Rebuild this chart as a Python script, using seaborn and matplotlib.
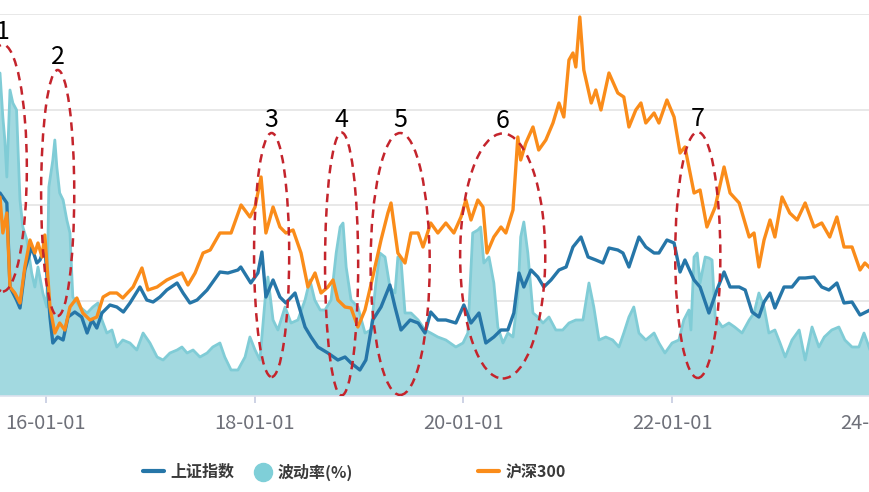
import matplotlib
matplotlib.use("Agg")
import matplotlib.pyplot as plt
import matplotlib.dates as mdates
from matplotlib.patches import Ellipse
from matplotlib.lines import Line2D
import seaborn as sns
import pandas as pd

# ---------------- data (arbitrary units) ----------------
sh_dates = ["2015-07-24","2015-08-17","2015-08-28","2015-09-20","2015-10-02","2015-10-19","2015-11-12","2015-11-30","2015-12-11","2015-12-28",
            "2016-01-15","2016-01-25","2016-02-11","2016-03-01","2016-03-18","2016-04-11","2016-05-05","2016-05-24","2016-06-10","2016-06-27",
            "2016-07-15","2016-08-12","2016-09-05","2016-09-28","2016-10-21","2016-11-25","2016-12-19","2017-01-10","2017-02-03","2017-02-27",
            "2017-04-04","2017-04-25","2017-05-19","2017-06-13","2017-07-18","2017-09-01","2017-09-29","2017-11-03","2017-11-13","2017-12-18",
            "2018-01-12","2018-01-26","2018-02-09","2018-03-06","2018-03-30","2018-04-20","2018-05-22","2018-06-26","2018-07-17","2018-08-10",
            "2018-09-14","2018-10-19","2018-11-13","2018-12-04","2019-01-04","2019-01-25","2019-02-18","2019-03-19","2019-04-19","2019-05-07",
            "2019-05-28","2019-06-29","2019-07-27","2019-08-20","2019-09-09","2019-10-04","2019-11-01","2019-12-06","2020-01-03","2020-01-28",
            "2020-02-25","2020-03-20","2020-04-17","2020-05-12","2020-06-05","2020-06-26","2020-07-14","2020-07-31","2020-08-25","2020-09-18",
            "2020-10-09","2020-11-03","2020-12-01","2020-12-26","2021-01-19","2021-02-16","2021-03-13","2021-04-09","2021-05-04","2021-05-25",
            "2021-06-25","2021-07-13","2021-08-03","2021-09-07","2021-10-01","2021-10-30","2021-11-16","2021-12-14","2022-01-08","2022-01-29",
            "2022-02-15","2022-03-19","2022-04-09","2022-05-10","2022-06-07","2022-07-02","2022-07-23","2022-08-24","2022-09-14","2022-10-08",
            "2022-11-01","2022-11-19","2022-12-10","2022-12-27","2023-01-28","2023-02-25","2023-03-22","2023-04-12","2023-05-13","2023-06-09",
            "2023-07-04","2023-08-01","2023-08-26","2023-09-23","2023-10-21","2023-11-25"]
sh_values = [203,193,109,96,88,126,149,133,136,149,
             79,53,59,56,79,84,79,63,76,68,
             83,91,89,84,93,109,96,94,99,106,
             113,103,93,96,106,124,123,126,129,113,
             123,144,99,116,99,93,103,69,59,49,
             43,36,39,33,26,36,76,89,111,89,
             66,76,73,63,84,76,76,73,91,73,
             83,53,59,66,66,83,123,109,126,119,
             109,116,126,129,149,159,139,136,133,148,
             146,143,129,159,149,143,143,156,153,124,
             136,116,109,83,106,124,109,109,106,84,
             79,94,103,88,109,109,118,118,119,109,
             106,113,93,94,81,86]

hs_dates = ["2015-07-24","2015-08-03","2015-08-17","2015-08-28","2015-09-14","2015-10-02","2015-10-19","2015-11-06","2015-11-23","2015-12-04",
            "2015-12-18","2015-12-28","2016-01-15","2016-02-01","2016-02-18","2016-03-07","2016-03-25","2016-04-18","2016-05-09","2016-06-03",
            "2016-06-27","2016-07-19","2016-08-12","2016-09-05","2016-09-26","2016-11-01","2016-12-02","2016-12-23","2017-01-24","2017-02-27",
            "2017-03-21","2017-04-21","2017-05-12","2017-06-06","2017-07-04","2017-07-29","2017-09-01","2017-10-10","2017-11-14","2017-12-15",
            "2018-01-02","2018-01-23","2018-02-09","2018-03-06","2018-03-30","2018-04-20","2018-05-15","2018-06-12","2018-07-06","2018-07-31",
            "2018-08-21","2018-09-14","2018-10-02","2018-10-19","2018-11-13","2018-12-04","2018-12-28","2019-01-22","2019-02-18","2019-03-19",
            "2019-04-12","2019-04-23","2019-05-17","2019-06-11","2019-07-02","2019-07-27","2019-08-13","2019-09-09","2019-10-04","2019-11-01",
            "2019-11-29","2019-12-24","2020-01-10","2020-01-28","2020-02-21","2020-03-10","2020-03-24","2020-04-17","2020-05-12","2020-05-29",
            "2020-06-23","2020-07-10","2020-07-20","2020-08-07","2020-09-01","2020-09-21","2020-10-16","2020-11-10","2020-12-01","2020-12-18",
            "2021-01-05","2021-01-19","2021-01-29","2021-02-12","2021-02-26","2021-03-24","2021-04-09","2021-04-27","2021-05-25","2021-06-25",
            "2021-07-16","2021-08-03","2021-08-27","2021-09-14","2021-10-01","2021-10-30","2021-11-16","2021-12-14","2022-01-08","2022-01-29",
            "2022-02-15","2022-03-19","2022-04-09","2022-05-03","2022-06-01","2022-07-02","2022-07-23","2022-08-24","2022-09-28","2022-10-15",
            "2022-11-01","2022-11-19","2022-12-10","2022-12-27","2023-01-21","2023-02-17","2023-03-15","2023-04-12","2023-05-13","2023-06-09",
            "2023-07-07","2023-08-01","2023-08-26","2023-09-23","2023-10-21","2023-11-07","2023-11-25"]
hs_values = [199,163,183,109,103,93,129,156,143,153,
             139,161,89,63,73,66,89,98,83,76,
             79,99,103,103,98,109,128,106,109,116,
             119,123,111,123,143,146,163,163,191,179,
             189,219,163,189,169,163,166,143,109,123,
             103,109,116,96,89,88,69,86,119,156,
             183,193,143,133,163,163,149,173,163,173,
             163,179,196,176,196,189,143,159,169,163,
             186,259,236,253,269,246,256,273,293,279,
             336,343,329,379,326,293,306,286,323,303,
             299,269,286,293,273,283,273,296,279,243,
             249,203,206,169,189,229,203,193,159,163,
             129,156,176,159,199,183,176,193,169,173,
             159,179,149,149,126,133,128]

vol_dates = ["2015-07-24","2015-08-03","2015-08-10","2015-08-17","2015-08-28","2015-09-07","2015-09-20","2015-10-02","2015-10-12","2015-10-26",
             "2015-11-12","2015-11-23","2015-12-04","2015-12-21","2016-01-04","2016-01-11","2016-01-25","2016-02-01","2016-02-08","2016-02-18",
             "2016-03-01","2016-03-14","2016-03-25","2016-04-04","2016-04-29","2016-05-24","2016-06-13","2016-07-01","2016-07-15","2016-08-01",
             "2016-08-19","2016-09-05","2016-09-26","2016-10-21","2016-11-14","2016-12-06","2016-12-30","2017-01-24","2017-02-14","2017-03-10",
             "2017-04-04","2017-04-21","2017-05-09","2017-05-30","2017-06-23","2017-07-18","2017-08-07","2017-09-01","2017-09-18","2017-10-10",
             "2017-11-03","2017-11-28","2017-12-15","2018-01-02","2018-01-19","2018-02-06","2018-02-16","2018-03-06","2018-03-23","2018-04-17",
             "2018-05-08","2018-06-01","2018-06-26","2018-07-13","2018-07-30","2018-08-18","2018-09-04","2018-09-25","2018-10-13","2018-10-27",
             "2018-11-06","2018-11-17","2018-12-04","2018-12-28","2019-01-22","2019-02-12","2019-03-01","2019-03-15","2019-04-02","2019-04-19",
             "2019-05-07","2019-05-17","2019-05-28","2019-06-11","2019-07-02","2019-07-27","2019-08-20","2019-09-09","2019-10-04","2019-11-01",
             "2019-12-06","2019-12-31","2020-01-17","2020-02-03","2020-02-21","2020-03-02","2020-03-13","2020-03-31","2020-04-17","2020-05-01",
             "2020-05-19","2020-06-05","2020-06-23","2020-07-10","2020-07-20","2020-07-31","2020-08-14","2020-09-01","2020-09-18","2020-10-06",
             "2020-10-27","2020-11-20","2020-12-14","2021-01-05","2021-01-29","2021-02-23","2021-03-16","2021-04-02","2021-04-20","2021-05-14",
             "2021-06-07","2021-06-29","2021-07-16","2021-08-03","2021-08-20","2021-09-07","2021-10-01","2021-10-30","2021-11-16","2021-12-07",
             "2022-01-01","2022-01-25","2022-02-11","2022-03-01","2022-03-08","2022-03-19","2022-03-30","2022-04-09","2022-04-27","2022-05-10",
             "2022-05-21","2022-06-01","2022-06-26","2022-07-19","2022-08-08","2022-09-03","2022-09-28","2022-10-15","2022-11-01","2022-11-19",
             "2022-12-06","2022-12-27","2023-01-14","2023-02-01","2023-02-25","2023-03-22","2023-04-12","2023-05-06","2023-05-30","2023-06-18",
             "2023-07-14","2023-08-08","2023-08-29","2023-09-23","2023-10-17","2023-11-04","2023-11-25"]
vol_values = [323,279,256,219,306,293,286,196,169,156,
              123,109,129,103,89,209,236,256,229,203,
              196,176,163,99,89,83,89,93,76,63,
              66,49,56,53,46,63,53,39,36,43,
              46,49,43,46,39,43,49,53,39,26,
              26,39,59,46,36,96,119,76,66,89,
              73,76,96,116,96,86,86,96,143,169,
              173,129,96,89,63,66,113,143,139,109,
              103,139,136,83,83,76,66,63,59,56,
              49,53,63,163,166,169,133,139,113,69,
              53,63,59,99,159,174,143,83,79,73,
              79,66,66,73,76,76,113,89,56,59,
              56,49,63,79,89,63,56,63,53,43,
              53,56,76,86,66,139,143,113,139,138,
              136,79,69,73,69,63,76,83,103,89,
              63,66,53,39,56,66,36,69,49,59,
              66,69,56,49,49,63,46]

series_names = ["上证指数", "波动率(%)", "沪深300"]
tick_dates = ["2016-01-01", "2018-01-01", "2020-01-01", "2022-01-01", "2024-01-01"]
tick_labels = ["16-01-01", "18-01-01", "20-01-01", "22-01-01", "24-01-01"]

# annotation ellipses (numbered regions)
ell_labels = ["1", "2", "3", "4", "5", "6", "7"]
ell_centers = ["2015-08-03", "2016-02-11", "2018-03-01", "2018-11-01", "2019-05-25", "2020-05-18", "2022-04-01"]
ell_cy = [228, 203, 141, 132, 132, 140, 141]
ell_w_days = [168, 116, 123, 116, 207, 298, 158]
ell_h = [247, 246, 244, 263, 262, 245, 246]

# ---------------- style ----------------
BLUE = "#2676a8"
ORANGE = "#fa8c1a"
TEAL_FILL = "#a2d9e0"
TEAL_LINE = "#80ccd6"
RED = "#c4242c"

sns.set_theme(style="white")
plt.rcParams["font.family"] = ["Noto Sans CJK SC", "DejaVu Sans"]

fig = plt.figure(figsize=(8.7, 4.92), dpi=100)
W, H = 870.0, 492.0
ax_left_px, ax_right_px = -40.0, 910.0
ax = fig.add_axes([ax_left_px / W, 96 / H, (ax_right_px - ax_left_px) / W, 382 / H])

sh = pd.DataFrame({"date": pd.to_datetime(sh_dates), "value": sh_values})
hs = pd.DataFrame({"date": pd.to_datetime(hs_dates), "value": hs_values})
vol = pd.DataFrame({"date": pd.to_datetime(vol_dates), "value": vol_values})

ax.fill_between(vol["date"], vol["value"], 0, color=TEAL_FILL, lw=0, zorder=1)
sns.lineplot(data=vol, x="date", y="value", ax=ax, color=TEAL_LINE, lw=2.0, zorder=2)
sns.lineplot(data=sh, x="date", y="value", ax=ax, color=BLUE, lw=2.4, zorder=3)
sns.lineplot(data=hs, x="date", y="value", ax=ax, color=ORANGE, lw=2.4, zorder=4)

ax.set_xlim(pd.Timestamp("2015-03-06"), pd.Timestamp("2024-04-13"))
ax.set_ylim(0, 382)
ax.set_yticks([95.5, 191, 286.5, 382])
ax.yaxis.grid(True, color="#e6e6e6", lw=1.3)
ax.set_axisbelow(True)
ax.tick_params(axis="y", length=0, labelleft=False)
ax.set_xlabel("")
ax.set_ylabel("")

ax.set_xticks(pd.to_datetime(tick_dates))
ax.set_xticklabels(tick_labels)
ax.tick_params(axis="x", bottom=True, length=5, width=1.2, color="#c5cbe0",
               labelsize=14.5, labelcolor="#6e7079", pad=7)

for s in ["top", "right", "left"]:
    ax.spines[s].set_visible(False)
ax.spines["bottom"].set_color("#dde2ee")
ax.spines["bottom"].set_linewidth(1.2)

for lbl, c, cy, w, h in zip(ell_labels, ell_centers, ell_cy, ell_w_days, ell_h):
    cx = mdates.date2num(pd.Timestamp(c))
    e = Ellipse((cx, cy), width=w, height=h, fill=False, ec=RED, lw=1.8,
                ls=(0, (3.4, 2.4)), zorder=6)
    ax.add_patch(e)
    ax.annotate(lbl, xy=(cx, cy + h / 2), xytext=(0, 0), textcoords="offset points",
                ha="center", va="bottom", fontsize=18, color="black", zorder=7)

# legend (three separately placed entries, as in the reference)
handles = [Line2D([], [], color=BLUE, lw=3),
           Line2D([], [], marker="o", ls="none", ms=13, color="#7fcfd8"),
           Line2D([], [], color=ORANGE, lw=3)]
starts = [143, 255, 478]
hlens = [1.3, 1.0, 1.3]
for hnd, name, x0, hl in zip(handles, series_names, starts, hlens):
    fig.legend(handles=[hnd], labels=[name], loc="center left",
               bbox_to_anchor=(x0 / W, 1 - 472 / H), frameon=False,
               prop={"size": 11.5, "weight": "bold"}, labelcolor="#3a3a3a",
               handlelength=hl, handletextpad=0.4, borderpad=0, borderaxespad=0)

fig.savefig("out.png", dpi=100)
